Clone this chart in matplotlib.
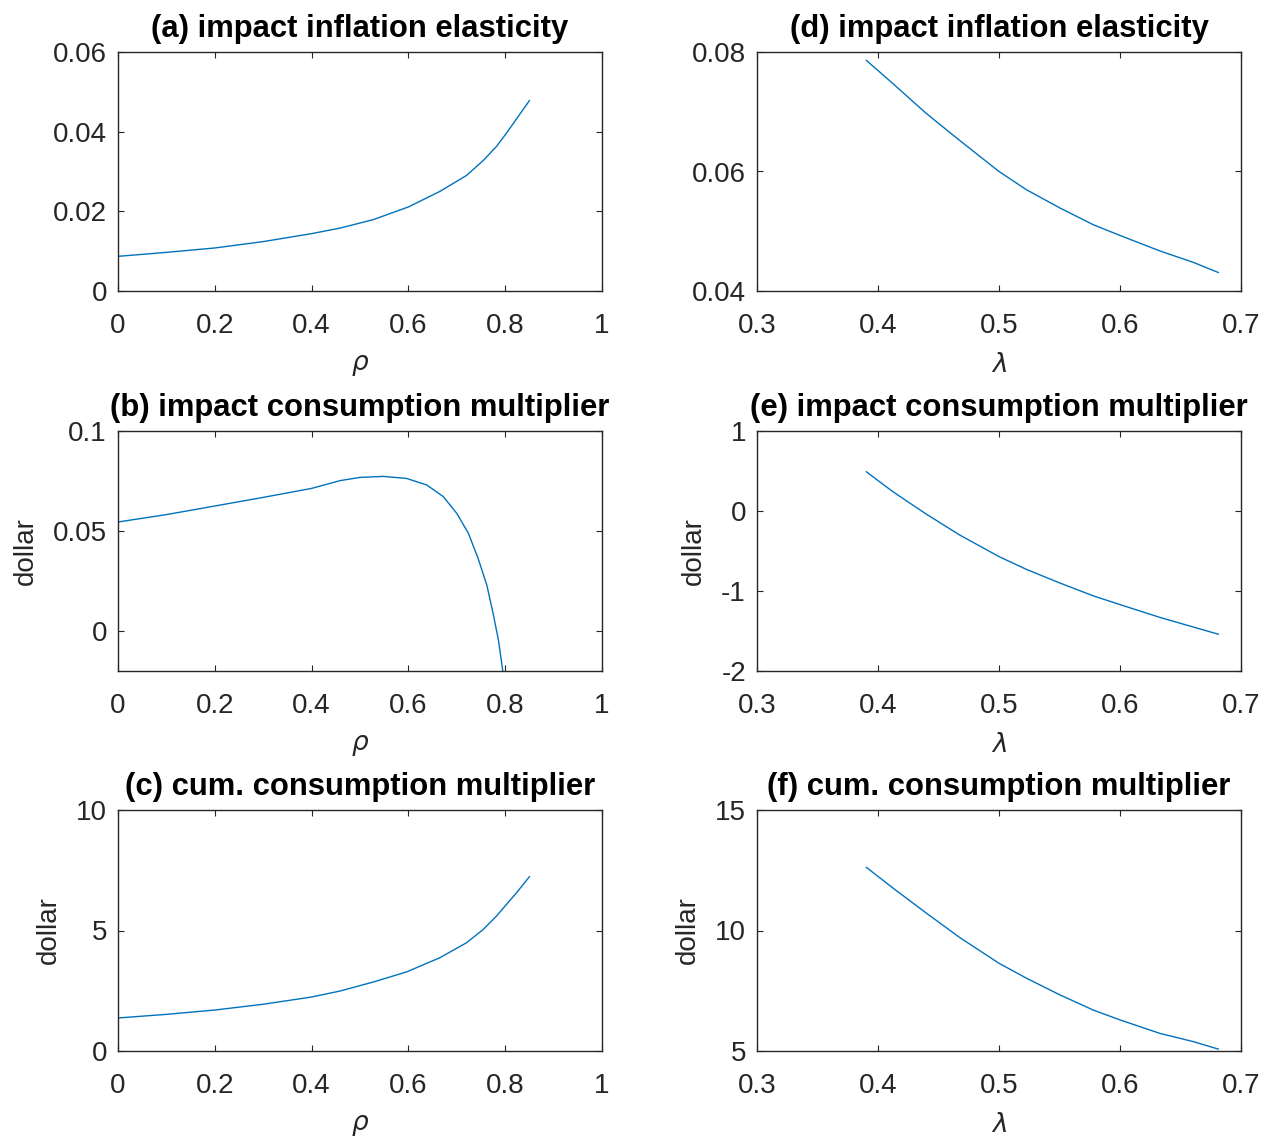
import matplotlib

matplotlib.use("Agg")

import matplotlib.pyplot as plt
from matplotlib.ticker import FuncFormatter

# values
rho_a = [0.0, 0.1, 0.2, 0.3, 0.4, 0.459, 0.527, 0.6, 0.665, 0.72, 0.755, 0.782, 0.8, 0.824, 0.85]
infl_rho = [0.0087, 0.0097, 0.0108, 0.0124, 0.0144, 0.0158, 0.0179, 0.0211, 0.0250, 0.0290, 0.0328,
            0.0363, 0.0392, 0.0433, 0.0478]

rho_b = [0.0, 0.1, 0.2, 0.3, 0.4, 0.459, 0.5, 0.548, 0.596, 0.638, 0.672, 0.70, 0.724, 0.744, 0.762,
         0.775, 0.786, 0.795]
cons_rho = [0.0545, 0.0582, 0.0625, 0.0668, 0.0713, 0.0752, 0.0768, 0.0773, 0.0763, 0.0730, 0.0672,
            0.0588, 0.0488, 0.0363, 0.0230, 0.0088, -0.0045, -0.0200]

rho_c = [0.0, 0.1, 0.2, 0.3, 0.4, 0.459, 0.527, 0.596, 0.665, 0.72, 0.755, 0.782, 0.803, 0.824, 0.85]
cum_rho = [1.37, 1.52, 1.70, 1.94, 2.24, 2.49, 2.86, 3.28, 3.87, 4.49, 5.05, 5.60, 6.09, 6.58, 7.23]

lam = [0.3904, 0.4124, 0.44, 0.4675, 0.5, 0.5227, 0.5503, 0.5778, 0.6, 0.633, 0.6605, 0.6812]
infl_lam = [0.0786, 0.0747, 0.0697, 0.0652, 0.0600, 0.05695, 0.0539, 0.0511, 0.0493, 0.0467, 0.0448, 0.0431]
cons_lam = [0.49, 0.24, -0.04, -0.30, -0.57, -0.73, -0.90, -1.06, -1.17, -1.33, -1.45, -1.54]
cum_lam = [12.62, 11.76, 10.72, 9.71, 8.64, 8.02, 7.33, 6.70, 6.29, 5.73, 5.39, 5.08]

titles = [
    "(a) impact inflation elasticity",
    "(b) impact consumption multiplier",
    "(c) cum. consumption multiplier",
    "(d) impact inflation elasticity",
    "(e) impact consumption multiplier",
    "(f) cum. consumption multiplier",
]

LINE = "#0072BD"
INK = "#262626"

plt.rcParams["font.family"] = ["Liberation Sans", "DejaVu Sans"]
plt.rcParams["axes.unicode_minus"] = False

W, H = 1263, 1139
fig = plt.figure(figsize=(W / 100, H / 100), dpi=100)

col_left = [118, 757]
row_top = [52, 431, 810]
row_bot = [291, 671, 1051]
ax_w = 484


def make_ax(col, row):
    left = col_left[col] / W
    bottom = 1 - row_bot[row] / H
    height = (row_bot[row] - row_top[row]) / H
    return fig.add_axes([left, bottom, ax_w / W, height])


fmt = FuncFormatter(lambda v, pos: f"{v:g}")

panels = [
    (0, 0, rho_a, infl_rho, (0, 1), (0, 0.06), [0, 0.02, 0.04, 0.06], None, r"$\rho$"),
    (0, 1, rho_b, cons_rho, (0, 1), (-0.02, 0.1), [0, 0.05, 0.1], "dollar", r"$\rho$"),
    (0, 2, rho_c, cum_rho, (0, 1), (0, 10), [0, 5, 10], "dollar", r"$\rho$"),
    (1, 0, lam, infl_lam, (0.3, 0.7), (0.04, 0.08), [0.04, 0.06, 0.08], None, r"$\lambda$"),
    (1, 1, lam, cons_lam, (0.3, 0.7), (-2, 1), [-2, -1, 0, 1], "dollar", r"$\lambda$"),
    (1, 2, lam, cum_lam, (0.3, 0.7), (5, 15), [5, 10, 15], "dollar", r"$\lambda$"),
]

for i, (col, row, x, y, xlim, ylim, yticks, ylab, xlab) in enumerate(panels):
    ax = make_ax(col, row)
    ax.plot(x, y, color=LINE, linewidth=1.0)
    ax.set_xlim(*xlim)
    ax.set_ylim(*ylim)
    if col == 0:
        ax.set_xticks([0, 0.2, 0.4, 0.6, 0.8, 1])
    else:
        ax.set_xticks([0.3, 0.4, 0.5, 0.6, 0.7])
    ax.set_yticks(yticks)
    ax.xaxis.set_major_formatter(fmt)
    ax.yaxis.set_major_formatter(fmt)
    ax.tick_params(direction="in", top=True, right=True, length=4, width=0.8,
                   colors=INK, labelsize=20)
    ax.tick_params(axis="x", pad=15.5)
    ax.tick_params(axis="y", pad=8)
    for sp in ax.spines.values():
        sp.set_color(INK)
        sp.set_linewidth(1.0)
    ax.set_title(titles[i], fontsize=22.3, fontweight="bold", pad=11, color="black")
    ax.set_xlabel(xlab, fontsize=19, color=INK, labelpad=10.5)
    if ylab:
        ax.set_ylabel(ylab, fontsize=20, color=INK, labelpad=10)

fig.savefig("out.png", dpi=100)
